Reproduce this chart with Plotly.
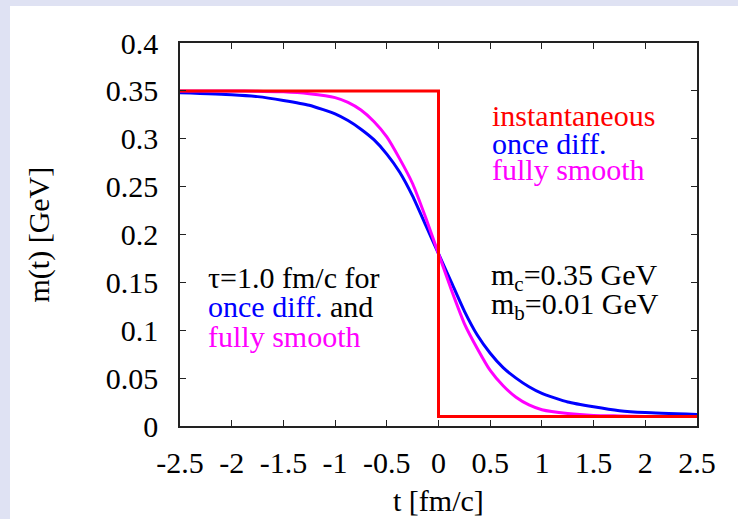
import plotly.graph_objects as go

# time axis and readings of m(t) [GeV]
t_step = [-2.5, 0.0, 0.0, 2.5]
m_step = [0.35, 0.35, 0.01, 0.01]

t_smooth = [-2.5, -2.0, -1.75, -1.5, -1.25, -1.0, -0.875, -0.75, -0.625, -0.5,
            -0.375, -0.25, -0.125, 0.0, 0.125, 0.25, 0.375, 0.5, 0.625, 0.75,
            0.875, 1.0, 1.25, 1.5, 1.75, 2.0, 2.5]
m_once = [0.348, 0.346, 0.344, 0.340, 0.335, 0.326, 0.319, 0.310, 0.299, 0.284,
          0.265, 0.240, 0.210, 0.180, 0.150, 0.120, 0.095, 0.076, 0.061, 0.050,
          0.041, 0.034, 0.025, 0.020, 0.016, 0.014, 0.012]
m_full = [0.350, 0.350, 0.3495, 0.349, 0.347, 0.343, 0.338, 0.330, 0.318, 0.302,
          0.279, 0.253, 0.218, 0.180, 0.142, 0.107, 0.081, 0.058, 0.042, 0.030,
          0.022, 0.017, 0.013, 0.011, 0.0105, 0.010, 0.010]

x_ticks = [-2.5, -2, -1.5, -1, -0.5, 0, 0.5, 1, 1.5, 2, 2.5]
x_tick_text = ["-2.5", "-2", "-1.5", "-1", "-0.5", "0", "0.5", "1", "1.5", "2", "2.5"]
y_ticks = [0, 0.05, 0.1, 0.15, 0.2, 0.25, 0.3, 0.35, 0.4]
y_tick_text = ["0", "0.05", "0.1", "0.15", "0.2", "0.25", "0.3", "0.35", "0.4"]

RED, BLUE, MAGENTA = "#ff0000", "#0000ff", "#ff00ff"
FONT = "Liberation Serif, Times New Roman, serif"
FS = 30

fig = go.Figure()
fig.add_trace(go.Scatter(x=t_smooth, y=m_once, mode="lines",
                         line=dict(color=BLUE, width=3, shape="spline", smoothing=0.5)))
fig.add_trace(go.Scatter(x=t_smooth, y=m_full, mode="lines",
                         line=dict(color=MAGENTA, width=3, shape="spline", smoothing=0.5)))
fig.add_trace(go.Scatter(x=t_step, y=m_step, mode="lines",
                         line=dict(color=RED, width=3)))

axis_common = dict(showgrid=False, zeroline=False, showline=True, mirror="ticks",
                   linecolor="#222222", linewidth=1.5, ticks="inside", ticklen=6,
                   tickwidth=1, tickcolor="#222222",
                   tickfont=dict(family=FONT, size=FS, color="black"))

fig.update_xaxes(range=[-2.5, 2.5], tickvals=x_ticks, ticktext=x_tick_text,
                 ticklabelstandoff=9, **axis_common)
fig.update_yaxes(range=[0, 0.4], tickvals=y_ticks, ticktext=y_tick_text,
                 ticklabelstandoff=14, **axis_common)

def note(x, y, text, color="black"):
    fig.add_annotation(x=x, y=y, xref="x", yref="y", text=text, showarrow=False,
                       xanchor="left", yanchor="middle",
                       font=dict(family=FONT, size=FS, color=color))

note(0.498, 0.3245, "instantaneous", RED)
note(0.498, 0.2955, "once diff.", BLUE)
note(0.498, 0.2680, "fully smooth", MAGENTA)
note(-2.249, 0.1546, "τ=1.0 fm/c for")
note(-2.249, 0.1243, f"<span style='color:{BLUE}'>once diff.</span> and")
note(-2.249, 0.0935, "fully smooth", MAGENTA)
note(0.488, 0.1556, "m<sub>c</sub>=0.35 GeV")
note(0.488, 0.1253, "m<sub>b</sub>=0.01 GeV")

# axis titles
fig.add_annotation(x=0.5, y=0, xref="paper", yref="paper", yshift=-74,
                   text="t [fm/c]", showarrow=False, xanchor="center", yanchor="middle",
                   font=dict(family=FONT, size=FS, color="black"))
fig.add_annotation(x=0, y=0.5, xref="paper", yref="paper", xshift=-142,
                   text="m(t) [GeV]", textangle=-90, showarrow=False,
                   xanchor="center", yanchor="middle",
                   font=dict(family=FONT, size=FS, color="black"))

# white page on a lavender frame
fig.add_shape(type="rect", xref="paper", yref="paper", layer="below",
              x0=(10 - 180) / 517, x1=1.2, y0=-0.4, y1=(426 - 6) / 383,
              fillcolor="white", line=dict(width=0))

fig.update_layout(width=738, height=519, showlegend=False,
                  margin=dict(l=180, r=41, t=43, b=93),
                  paper_bgcolor="#dfe2f3", plot_bgcolor="white")

fig.write_html("out.html")
